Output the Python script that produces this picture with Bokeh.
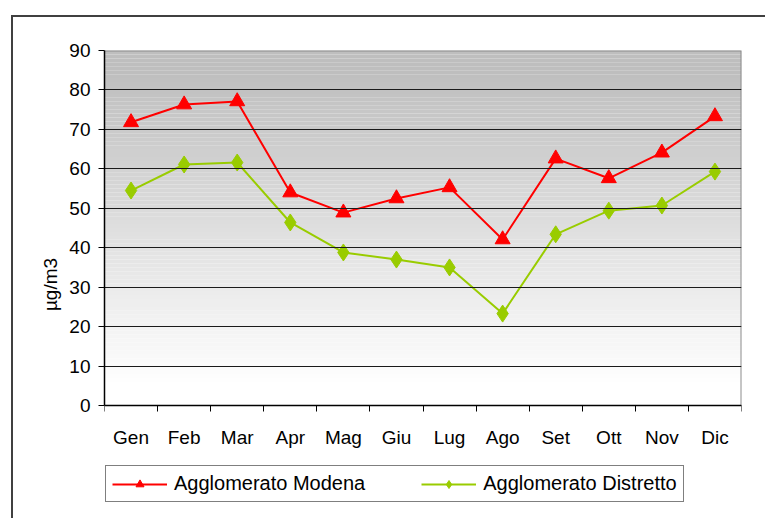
from bokeh.plotting import figure
from bokeh.models import (FixedTicker, Legend, LegendItem, Range1d, Title)
from bokeh.embed import file_html
from bokeh.resources import INLINE

months = ["Gen", "Feb", "Mar", "Apr", "Mag", "Giu", "Lug", "Ago", "Set", "Ott", "Nov", "Dic"]
modena = [71.8, 76.3, 77.1, 54.0, 48.9, 52.5, 55.3, 42.1, 62.6, 57.6, 64.1, 73.3]
distretto = [54.5, 61.1, 61.6, 46.4, 38.8, 37.0, 35.0, 23.3, 43.4, 49.4, 50.7, 59.3]
y_ticks = [0, 10, 20, 30, 40, 50, 60, 70, 80, 90]
series_names = ["Agglomerato Modena", "Agglomerato Distretto"]

FONT = "Liberation Sans"

xs = [i + 0.5 for i in range(len(months))]
n_cat = len(months)
y_max = y_ticks[-1]

# plot area 355 px tall for 0..90; frame extended downward to host the legend
px_per_unit = 355 / y_max
frame_h = 468
y_min = y_max - frame_h / px_per_unit

p = figure(frame_width=637, frame_height=frame_h, output_backend="svg", toolbar_location=None,
           x_range=Range1d(0, n_cat), y_range=Range1d(y_min, y_max),
           min_border_left=91, min_border_right=24, min_border_top=33, min_border_bottom=0)
p.styles = {"border-left": "2px solid #404040", "border-top": "2px solid #404040",
            "margin-left": "11px", "margin-top": "15px"}
p.border_fill_color = "white"
p.background_fill_color = "white"
p.outline_line_color = None

# gradient background of the plot area
lo = list(range(y_max))
hi = [k + 1 for k in lo]
cols = []
for k in lo:
    t = min(1.0, max(0.0, (k + 0.5 - 5) / 80))
    v = int(round(255 - t * (255 - 190)))
    cols.append("#%02x%02x%02x" % (v, v, v))
p.quad(left=0, right=n_cat, bottom=lo, top=hi, fill_color=cols, line_color=None)

# grey plot-area border (top and right)
p.line([0, n_cat, n_cat], [y_max, y_max, 0], line_color="#8c8c8c", line_width=2)

# grid
p.xgrid.grid_line_color = None
p.ygrid.ticker = FixedTicker(ticks=y_ticks)
p.ygrid.grid_line_color = "#1a1a1a"
p.ygrid.grid_line_width = 1.2
p.ygrid.level = "glyph"

# axes
p.yaxis.ticker = FixedTicker(ticks=y_ticks)
p.yaxis.bounds = (0, y_max)
p.yaxis.axis_line_color = "black"
p.yaxis.axis_line_width = 1.5
p.yaxis.major_tick_out = 6
p.yaxis.major_tick_in = 0
p.yaxis.minor_tick_line_color = None
p.yaxis.major_label_text_font = FONT
p.yaxis.major_label_text_font_size = "19px"
p.yaxis.major_label_text_color = "black"
p.yaxis.major_label_standoff = 8

ytitle = Title(text="µg/m3", align="center", standoff=12,
               text_font=FONT, text_font_size="19px", text_font_style="normal",
               text_color="black")
p.add_layout(ytitle, "left")

p.xaxis.fixed_location = 0
p.xaxis.ticker = FixedTicker(ticks=xs, minor_ticks=list(range(n_cat + 1)))
p.xaxis.major_label_overrides = {x: m for x, m in zip(xs, months)}
p.xaxis.major_tick_out = 0
p.xaxis.major_tick_in = 0
p.xaxis.minor_tick_out = 6
p.xaxis.minor_tick_in = 0
p.xaxis.minor_tick_line_color = "black"
p.xaxis.axis_line_color = "black"
p.xaxis.axis_line_width = 1.5
p.xaxis.major_label_text_font = FONT
p.xaxis.major_label_text_font_size = "19px"
p.xaxis.major_label_text_color = "black"
p.xaxis.major_label_standoff = 15

# series
l1 = p.line(xs, modena, line_color="#ff0000", line_width=2)
m1 = p.scatter(xs, modena, marker="triangle", size=15, fill_color="#ff0000", line_color="#ff0000")
l2 = p.line(xs, distretto, line_color="#99cc00", line_width=2)
m2 = p.scatter(xs, distretto, marker="diamond", size=17, fill_color="#99cc00", line_color="#99cc00")

legend = Legend(items=[LegendItem(label=series_names[0], renderers=[l1, m1]),
                       LegendItem(label=series_names[1], renderers=[l2, m2])],
                orientation="horizontal", location=(1, 16))
legend.label_text_font = FONT
legend.label_text_font_size = "20px"
legend.label_text_color = "black"
legend.border_line_color = "black"
legend.border_line_width = 1
legend.glyph_width = 55
legend.spacing = 56
legend.padding = 6
legend.margin = 0
legend.label_standoff = 7
legend.background_fill_alpha = 1
p.add_layout(legend)

open("out.html", "w").write(file_html(p, INLINE))
